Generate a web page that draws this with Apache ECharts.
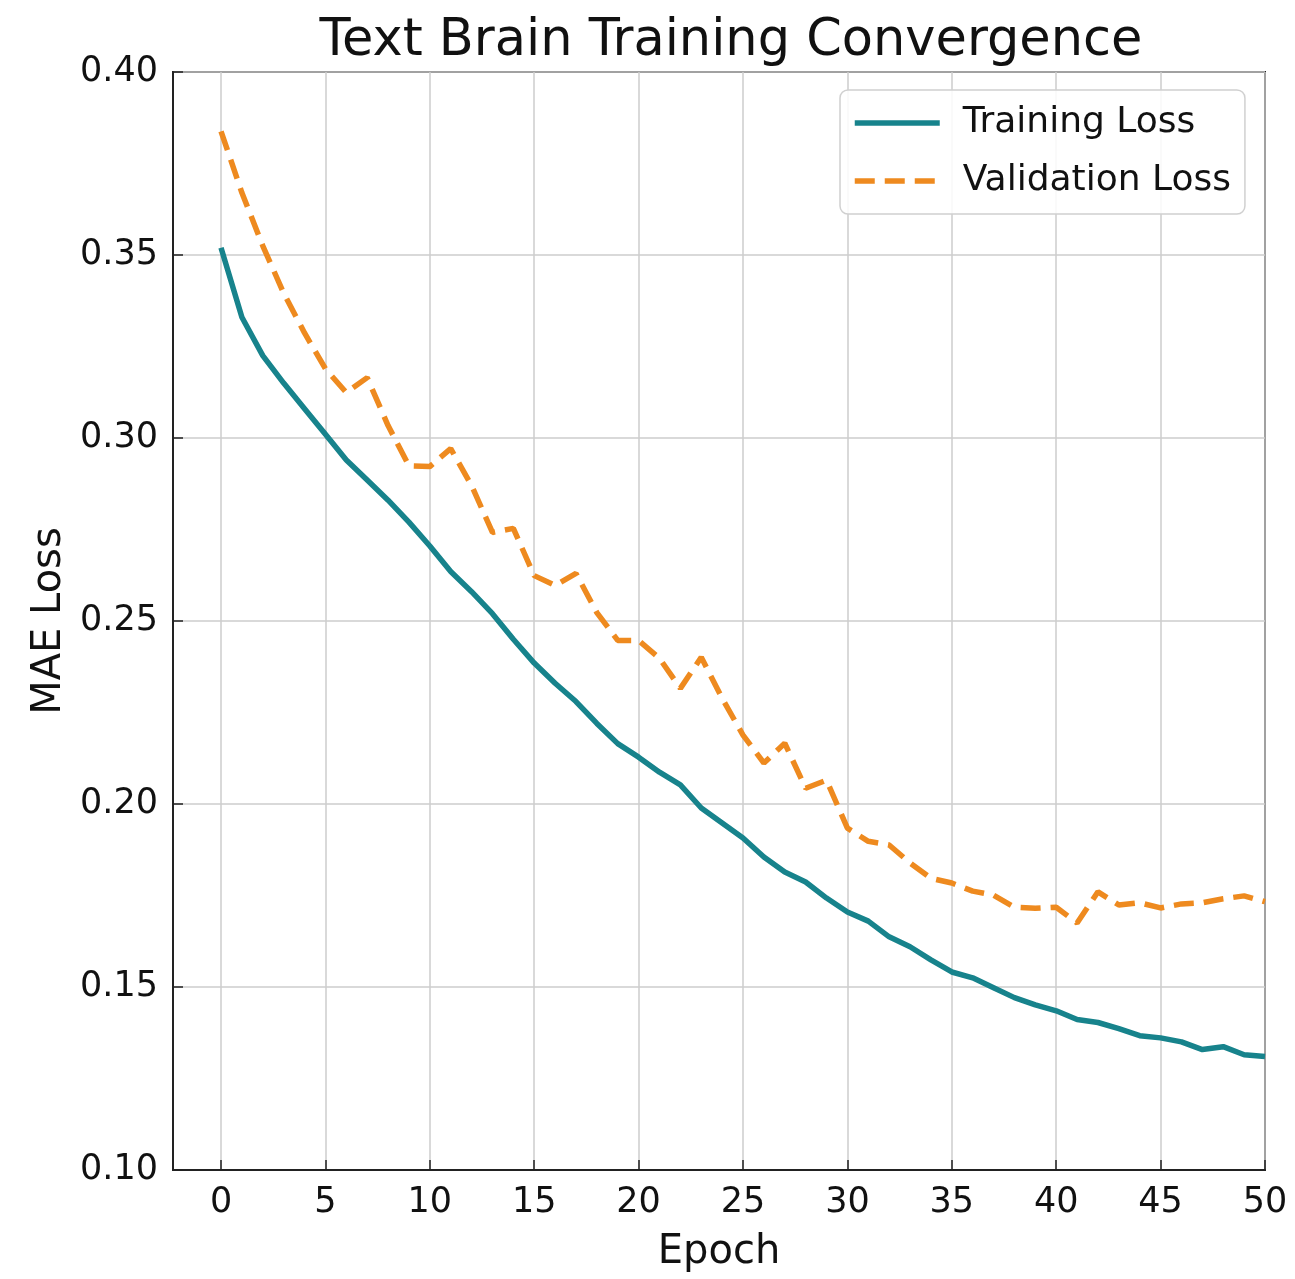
<!DOCTYPE html>
<html>
<head>
<meta charset="utf-8">
<script src="https://cdn.jsdelivr.net/npm/echarts@6/dist/echarts.min.js"></script>
<style>
html,body{margin:0;padding:0;background:#fff;}
#chart{width:1295px;height:1279px;}
</style>
</head>
<body>
<div id="chart"></div>
<script>
const epochs = [];
for (let i = 0; i <= 50; i++) epochs.push(i);
const trainingLoss = [
  0.352, 0.333, 0.3225, 0.315, 0.308, 0.301, 0.294, 0.2885, 0.283, 0.277,
  0.2705, 0.2635, 0.258, 0.252, 0.245, 0.2385, 0.233, 0.228, 0.222, 0.2165,
  0.2128, 0.2087, 0.2052, 0.1989, 0.1948, 0.1907, 0.1855, 0.1814, 0.1787, 0.1743,
  0.1705, 0.1680, 0.1637, 0.1610, 0.1574, 0.1541, 0.1525, 0.1498, 0.1471, 0.1451,
  0.1435, 0.1411, 0.1403, 0.1386, 0.1367, 0.1361, 0.1350, 0.1329, 0.1337, 0.1315,
  0.1310
];
const validationLoss = [
  0.3838, 0.367, 0.3525, 0.3396, 0.3287, 0.3189, 0.3124, 0.3165, 0.3034, 0.2924,
  0.2922, 0.2971, 0.2870, 0.2742, 0.2753, 0.2624, 0.2597, 0.2630, 0.2523, 0.2447,
  0.2447, 0.2398, 0.2316, 0.2401, 0.2289, 0.2188, 0.2112, 0.2166, 0.2043, 0.2065,
  0.1934, 0.1898, 0.1888, 0.1839, 0.1797, 0.1784, 0.1762, 0.1751, 0.1718, 0.1715,
  0.1718, 0.1675, 0.1760, 0.1724, 0.1730, 0.1716, 0.1727, 0.1730, 0.1741, 0.1749,
  0.1733
];
const xTicks = [0, 5, 10, 15, 20, 25, 30, 35, 40, 45, 50];
const yTicks = [0.10, 0.15, 0.20, 0.25, 0.30, 0.35, 0.40];

const FONT = 'DejaVu Sans';
const TEAL = '#17838c';
const ORANGE = '#ee8a1f';

const chart = echarts.init(document.getElementById('chart'), null, {renderer: 'canvas'});
chart.setOption({
  backgroundColor: '#ffffff',
  animation: false,
  title: {
    text: 'Text Brain Training Convergence',
    left: 726, top: 11, textAlign: 'center',
    textStyle: {fontFamily: FONT, fontSize: 51, fontWeight: 'normal', color: '#111'}
  },
  grid: {
    left: 173, right: 30, top: 72, bottom: 109,
    show: true, borderColor: '#222', borderWidth: 2, backgroundColor: 'transparent'
  },
  legend: {
    orient: 'vertical',
    left: 840, top: 90,
    padding: [15, 14, 15, 12],
    itemGap: 22,
    itemWidth: 85, itemHeight: 34,
    backgroundColor: 'rgba(255,255,255,0.85)',
    borderColor: '#d0d0d0', borderWidth: 1.5, borderRadius: 8,
    itemStyle: {opacity: 0},
    lineStyle: {width: 5.5},
    textStyle: {fontFamily: FONT, fontSize: 36, color: '#111', padding: [0, 0, 0, 18]},
    data: ['Training Loss', 'Validation Loss']
  },
  xAxis: {
    type: 'value', min: -2.3, max: 50,
    name: 'Epoch', nameLocation: 'middle', nameGap: 63,
    nameTextStyle: {fontFamily: FONT, fontSize: 40, color: '#111'},
    axisLine: {show: true, onZero: false, lineStyle: {color: '#222', width: 2}},
    axisTick: {show: true, inside: true, length: 10, customValues: xTicks, lineStyle: {color: '#222', width: 1.5}},
    axisLabel: {show: true, customValues: xTicks, margin: 15, fontFamily: FONT, fontSize: 35, color: '#111'},
    splitLine: {show: true, lineStyle: {color: '#cccccc', width: 1.5}}
  },
  yAxis: {
    type: 'value', min: 0.10, max: 0.40,
    name: 'MAE Loss', nameLocation: 'middle', nameGap: 103, nameRotate: 90,
    nameTextStyle: {fontFamily: FONT, fontSize: 40, color: '#111'},
    axisLine: {show: true, onZero: false, lineStyle: {color: '#222', width: 2}},
    axisTick: {show: true, inside: true, length: 10, customValues: yTicks, lineStyle: {color: '#222', width: 1.5}},
    axisLabel: {show: true, customValues: yTicks, margin: 15, fontFamily: FONT, fontSize: 35, color: '#111',
      formatter: v => v.toFixed(2)},
    splitLine: {show: true, lineStyle: {color: '#cccccc', width: 1.5}}
  },
  series: [
    {
      name: 'Training Loss', type: 'line',
      data: epochs.map((e, i) => [e, trainingLoss[i]]),
      symbol: 'none', smooth: false,
      lineStyle: {color: TEAL, width: 5.5},
      itemStyle: {color: TEAL},
      z: 3
    },
    {
      name: 'Validation Loss', type: 'line',
      data: epochs.map((e, i) => [e, validationLoss[i]]),
      symbol: 'none', smooth: false,
      lineStyle: {color: ORANGE, width: 5.5, type: [20, 10]},
      itemStyle: {color: ORANGE},
      z: 2
    }
  ]
});
</script>
</body>
</html>
